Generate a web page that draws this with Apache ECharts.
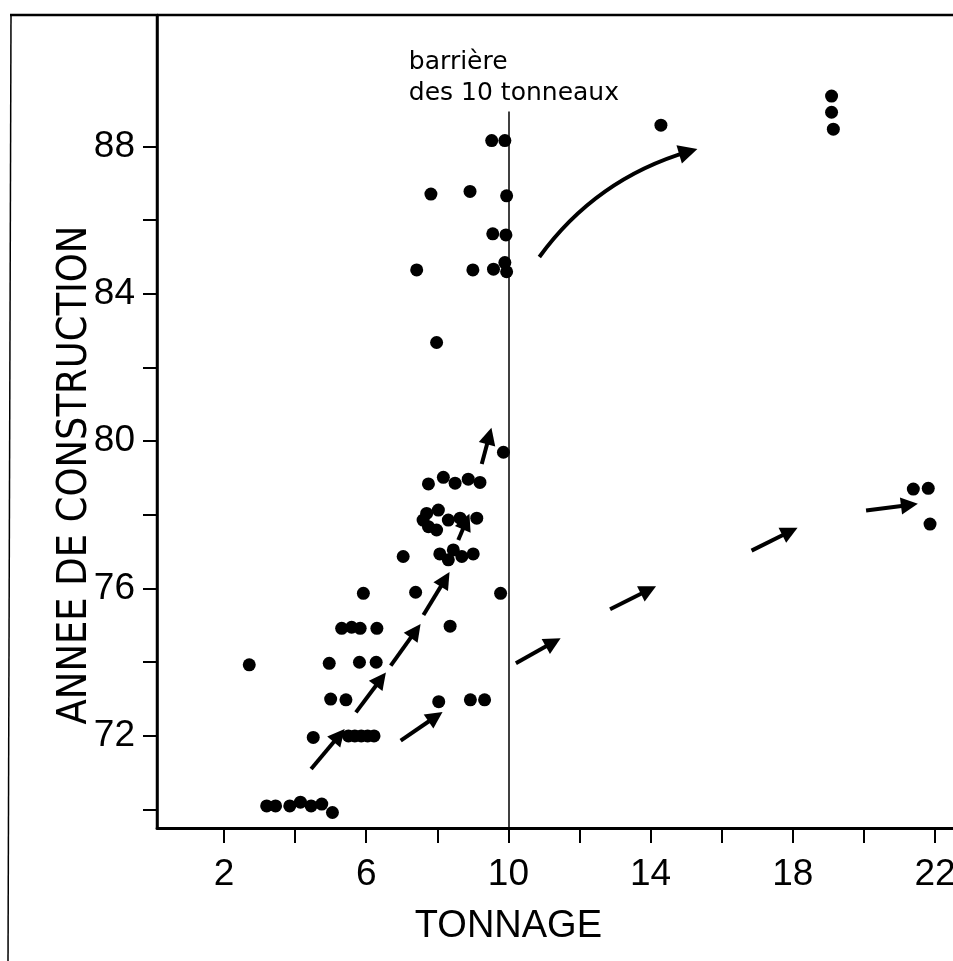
<!DOCTYPE html>
<html><head><meta charset="utf-8">
<script src="https://cdn.jsdelivr.net/npm/echarts@6/dist/echarts.min.js"></script>
<style>html,body{margin:0;padding:0;background:#fff}#c{width:953px;height:961px}</style>
</head><body><div id="c"></div>
<script>
// Tonnage (x) and year of construction (y) of each boat
const tonnage = [
  3.2, 3.45, 3.85, 4.15, 4.45, 4.75, 5.05,
  4.51, 5.5, 5.68, 5.86, 6.04, 6.22,
  5.0, 5.43, 8.04, 8.93, 9.33,
  2.71, 4.96, 5.81, 6.28,
  5.31, 5.59, 5.83, 6.3, 8.36,
  5.92, 7.39, 9.78,
  7.04, 8.07, 8.31, 8.45, 8.69, 9.01,
  7.7, 8.03, 7.75, 7.98, 8.31, 8.64, 9.11, 7.6,
  7.75, 8.17, 8.5, 8.87, 9.2,
  9.86,
  7.98,
  7.42, 9.0, 9.58, 9.9, 9.95,
  9.56, 9.93,
  7.82, 8.92, 9.95,
  9.53, 9.9,
  14.29, 19.09, 19.09, 19.14, 21.39, 21.81, 21.86
];
const annee = [
  70.1, 70.1, 70.1, 70.2, 70.1, 70.15, 69.92,
  71.96, 72.0, 72.0, 72.0, 72.0, 72.0,
  73.0, 72.98, 72.93, 72.98, 72.98,
  73.93, 73.97, 74.0, 74.0,
  74.92, 74.95, 74.92, 74.92, 74.98,
  75.87, 75.9, 75.87,
  76.87, 76.94, 76.78, 77.05, 76.87, 76.94,
  78.04, 78.13, 77.68, 77.59, 77.86, 77.91, 77.91, 77.86,
  78.84, 79.02, 78.86, 78.97, 78.88,
  79.7,
  82.68,
  84.65, 84.65, 84.67, 84.85, 84.6,
  85.63, 85.6,
  86.71, 86.78, 86.66,
  88.16, 88.16,
  88.58, 89.37, 88.93, 88.47, 78.7, 78.72, 77.75
];
// Straight arrows (tail -> head), in data units
const arrowFrom = [[4.45,71.10],[5.71,72.64],[6.69,73.91],[7.61,75.28],[6.97,71.87],[9.25,79.38],[8.59,77.32],
                   [10.21,73.97],[12.86,75.44],[16.84,77.03],[20.06,78.12]];
const arrowTo   = [[5.24,72.01],[6.41,73.54],[7.39,74.85],[8.22,76.25],[7.95,72.52],[9.46,80.14],[8.81,77.82],
                   [11.26,74.54],[13.94,75.96],[17.92,77.55],[21.28,78.27]];
// Curved arrow
const curvedFrom = [10.87, 85.0];
const curvedTo = [15.06, 87.86];
// Barrier line
const barrierX = 10;
const barrierBottom = 69.5;
const barrierTop = 88.95;
// Axes
const xMin = 0.115, xMax = 22.506;
const yMin = 69.5, yMax = 91.57;
const xTicks = [2,4,6,8,10,12,14,16,18,20,22];
const xLabels = [2,6,10,14,18,22];
const yTicks = [70,72,74,76,78,80,82,84,86,88];
const yLabels = [72,76,80,84,88];

const points = tonnage.map((x, i) => [x, annee[i]]);
const arrows = arrowFrom.map((f, i) => ({coords: [f, arrowTo[i]]}));

const chart = echarts.init(document.getElementById('c'), null, {renderer: 'canvas'});
const labelFont = 'Liberation Sans';
chart.setOption({
  animation: false,
  backgroundColor: '#fff',
  grid: {left: 157, right: 0, top: 15, bottom: 133, containLabel: false, outerBoundsMode: 'none'},
  xAxis: {
    type: 'value', min: xMin, max: xMax,
    axisLine: {show: true, lineStyle: {color: '#000', width: 3}},
    axisTick: {show: true, customValues: xTicks, length: 15, lineStyle: {color: '#000', width: 2}},
    axisLabel: {customValues: xLabels, fontSize: 37, fontFamily: labelFont, color: '#000', margin: 28},
    splitLine: {show: false}
  },
  yAxis: {
    type: 'value', min: yMin, max: yMax,
    axisLine: {show: true, lineStyle: {color: '#000', width: 2.5}},
    axisTick: {show: true, customValues: yTicks, length: 14, lineStyle: {color: '#000', width: 2}},
    axisLabel: {customValues: yLabels, fontSize: 37, fontFamily: labelFont, color: '#000', margin: 22},
    splitLine: {show: false}
  },
  series: [
    {
      type: 'lines', coordinateSystem: 'cartesian2d', z: 1,
      symbol: ['none', 'none'],
      lineStyle: {color: '#000', width: 1.5, opacity: 1},
      data: [{coords: [[barrierX, barrierBottom], [barrierX, barrierTop]]}]
    },
    {
      type: 'lines', coordinateSystem: 'cartesian2d', z: 2,
      symbol: ['none', 'triangle'], symbolSize: [10, 17],
      lineStyle: {color: '#000', width: 4, opacity: 1},
      itemStyle: {color: '#000'},
      data: arrows
    },
    {
      type: 'lines', coordinateSystem: 'cartesian2d', z: 2,
      symbol: ['none', 'triangle'], symbolSize: [11, 19],
      lineStyle: {color: '#000', width: 4, opacity: 1, curveness: 0.17},
      data: [{coords: [curvedFrom, curvedTo]}]
    },
    {
      type: 'scatter', z: 3, symbol: 'circle', symbolSize: 13,
      itemStyle: {color: '#000', opacity: 1},
      data: points
    }
  ]
});

const p = chart.convertToPixel({gridIndex: 0}, [barrierX, yMin]);
const pa = chart.convertToPixel({gridIndex: 0}, [7.2, 90.7]);
chart.setOption({
  graphic: [
    {type: 'line', shape: {x1: 10, y1: 15, x2: 953, y2: 15}, style: {stroke: '#000', lineWidth: 2.5}},
    {type: 'line', shape: {x1: 11, y1: 15, x2: 8, y2: 961}, style: {stroke: '#000', lineWidth: 1.5}},
    {type: 'line', shape: {x1: 157, y1: 15, x2: 157, y2: 828}, style: {stroke: '#000', lineWidth: 2.5}},
    {type: 'text', x: pa[0], y: pa[1],
      style: {text: 'barrière\ndes 10 tonneaux', font: '25px "DejaVu Sans"', lineHeight: 31, fill: '#000', textAlign: 'left', textVerticalAlign: 'top'}},
    {type: 'text', x: p[0], y: 927,
      style: {text: 'TONNAGE', font: '38px "Liberation Sans"', fill: '#000', textAlign: 'center', textVerticalAlign: 'middle'}},
    {type: 'text', x: 75, y: 475, rotation: Math.PI / 2,
      style: {text: 'ANNEE DE CONSTRUCTION', font: '41px "DejaVu Sans Condensed", "Liberation Sans Narrow"', fill: '#000', textAlign: 'center', textVerticalAlign: 'middle'}}
  ]
});
</script>
</body></html>
